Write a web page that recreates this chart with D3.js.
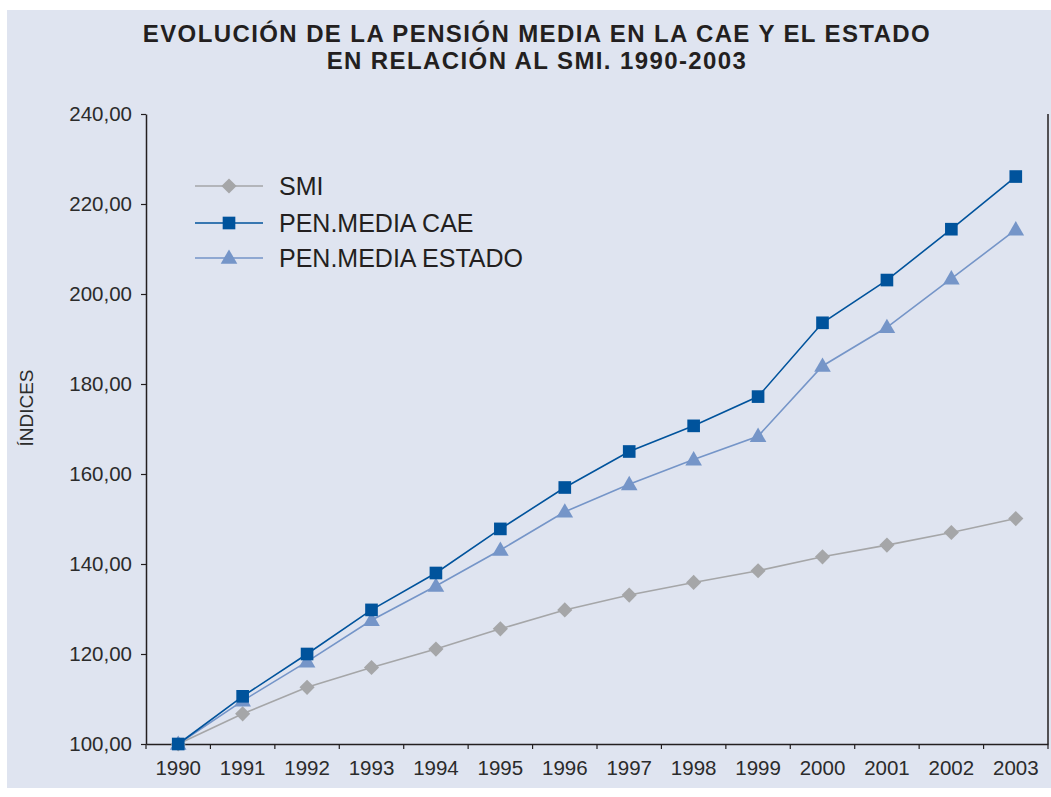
<!DOCTYPE html>
<html>
<head>
<meta charset="utf-8">
<script src="https://cdn.jsdelivr.net/npm/d3@7"></script>
<style>
  body { margin: 0; background: #fff; }
  svg { display: block; font-family: "Liberation Sans", Arial, sans-serif; }
</style>
</head>
<body>
<div id="chart"></div>
<script>
// Data
const years = ['1990', '1991', '1992', '1993', '1994', '1995', '1996', '1997', '1998', '1999', '2000', '2001', '2002', '2003'];
const smi = [100, 106.7, 112.6, 117.0, 121.1, 125.6, 129.8, 133.1, 135.9, 138.5, 141.6, 144.2, 147.0, 150.1];
const penCae = [100, 110.6, 120.0, 129.8, 138.0, 147.8, 157.0, 165.0, 170.7, 177.2, 193.6, 203.1, 214.4, 226.1];
const penEstado = [100, 109.6, 118.3, 127.5, 135.1, 143.1, 151.6, 157.7, 163.2, 168.4, 184.0, 192.6, 203.4, 214.3];
const yTicks = [100, 120, 140, 160, 180, 200, 220, 240];

const titleLines = ['EVOLUCIÓN DE LA PENSIÓN MEDIA EN LA CAE Y EL ESTADO', 'EN RELACIÓN AL SMI. 1990-2003'];

const series = [
  { name: 'SMI', values: smi, color: '#a5a6a8', marker: 'diamond' },
  { name: 'PEN.MEDIA CAE', values: penCae, color: '#00539c', marker: 'square' },
  { name: 'PEN.MEDIA ESTADO', values: penEstado, color: '#7595c8', marker: 'triangle' }
];
// drawing order: grey first, dark blue on top
const drawOrder = [0, 2, 1];

const W = 1051, H = 797;
const plot = { left: 146, right: 1048, top: 114, bottom: 744 };
const axisColor = '#231f20';
const textColor = '#2b2b2b';

const svg = d3.select('#chart').append('svg')
  .attr('width', W)
  .attr('height', H);

// panel background
svg.append('rect')
  .attr('x', 7).attr('y', 10)
  .attr('width', W - 7).attr('height', 778)
  .attr('fill', '#dfe4f0');

// title
svg.append('text')
  .attr('text-anchor', 'middle')
  .style('font-size', '24px')
  .style('font-weight', 'bold')
  .style('letter-spacing', '1.4px')
  .attr('fill', '#231f20')
  .selectAll('tspan')
  .data(titleLines)
  .enter().append('tspan')
  .attr('x', 537)
  .attr('y', (d, i) => 41.5 + i * 27.5)
  .text(d => d);

// scales
const x = d3.scaleBand().domain(years).range([plot.left, plot.right]).padding(0);
const y = d3.scaleLinear().domain([100, 240]).range([plot.bottom, plot.top]);

const locale = d3.formatLocale({ decimal: ',', thousands: '.', grouping: [3], currency: ['', '€'] });
const fmt = locale.format('.2f');

// y axis
const yAxis = svg.append('g')
  .attr('transform', `translate(${plot.left},0)`)
  .call(d3.axisLeft(y).tickValues(yTicks).tickFormat(fmt).tickSize(5).tickSizeOuter(0).tickPadding(9));
yAxis.select('.domain').attr('stroke', axisColor).attr('stroke-width', 1.5);
yAxis.selectAll('.tick line').attr('stroke', axisColor).attr('stroke-width', 1.2);
yAxis.selectAll('.tick text')
  .attr('fill', textColor)
  .style('font-size', '20.5px')
  .style('font-family', '"Liberation Sans", Arial, sans-serif');

// right border line
svg.append('line')
  .attr('x1', plot.right).attr('x2', plot.right)
  .attr('y1', plot.top).attr('y2', plot.bottom)
  .attr('stroke', axisColor).attr('stroke-width', 1.5);

// x axis: labels at band centres, ticks at band boundaries
const xAxis = svg.append('g')
  .attr('transform', `translate(0,${plot.bottom})`)
  .call(d3.axisBottom(x).tickSize(0).tickPadding(16));
xAxis.select('.domain').attr('stroke', axisColor).attr('stroke-width', 1.5);
xAxis.selectAll('.tick text')
  .attr('fill', textColor)
  .style('font-size', '20.5px')
  .style('font-family', '"Liberation Sans", Arial, sans-serif');

const boundaries = years.map(d => x(d)).concat([x.range()[1]]);
xAxis.selectAll('.bound')
  .data(boundaries)
  .enter().append('line')
  .attr('class', 'bound')
  .attr('x1', d => d).attr('x2', d => d)
  .attr('y1', 0).attr('y2', 5)
  .attr('stroke', axisColor).attr('stroke-width', 1.2);

// y axis title
svg.append('text')
  .attr('transform', `translate(33,408) rotate(-90)`)
  .attr('text-anchor', 'middle')
  .attr('fill', textColor)
  .style('font-size', '19px')
  .text('ÍNDICES');

// marker shapes
const symbolFor = {
  diamond: d3.symbol().type(d3.symbolSquare).size(115),
  square: d3.symbol().type(d3.symbolSquare).size(160),
  triangle: d3.symbol().type(d3.symbolTriangle).size(120)
};
function markerTransform(kind, cx, cy) {
  if (kind === 'diamond') return `translate(${cx},${cy}) rotate(45)`;
  if (kind === 'triangle') return `translate(${cx},${cy + 1})`;
  return `translate(${cx},${cy})`;
}

const line = d3.line()
  .x((d, i) => x(years[i]) + x.bandwidth() / 2)
  .y(d => y(d));

drawOrder.forEach(k => {
  const s = series[k];
  svg.append('path')
    .datum(s.values)
    .attr('d', line)
    .attr('fill', 'none')
    .attr('stroke', s.color)
    .attr('stroke-width', 1.6);

  svg.selectAll(`.pt-${k}`)
    .data(s.values)
    .enter().append('path')
    .attr('class', `pt-${k}`)
    .attr('d', symbolFor[s.marker])
    .attr('transform', (d, i) => markerTransform(s.marker, x(years[i]) + x.bandwidth() / 2, y(d)))
    .attr('fill', s.color);
});

// legend
const legend = svg.append('g');
const legendY = [186, 223, 258];
series.forEach((s, i) => {
  const g = legend.append('g').attr('transform', `translate(0,${legendY[i]})`);
  g.append('line')
    .attr('x1', 195).attr('x2', 263)
    .attr('y1', 0).attr('y2', 0)
    .attr('stroke', s.color).attr('stroke-width', 1.6);
  g.append('path')
    .attr('d', symbolFor[s.marker])
    .attr('transform', markerTransform(s.marker, 229, 0))
    .attr('fill', s.color);
  g.append('text')
    .attr('x', 279)
    .attr('y', 9)
    .attr('fill', '#231f20')
    .style('font-size', '25px')
    .text(s.name);
});
</script>
</body>
</html>
